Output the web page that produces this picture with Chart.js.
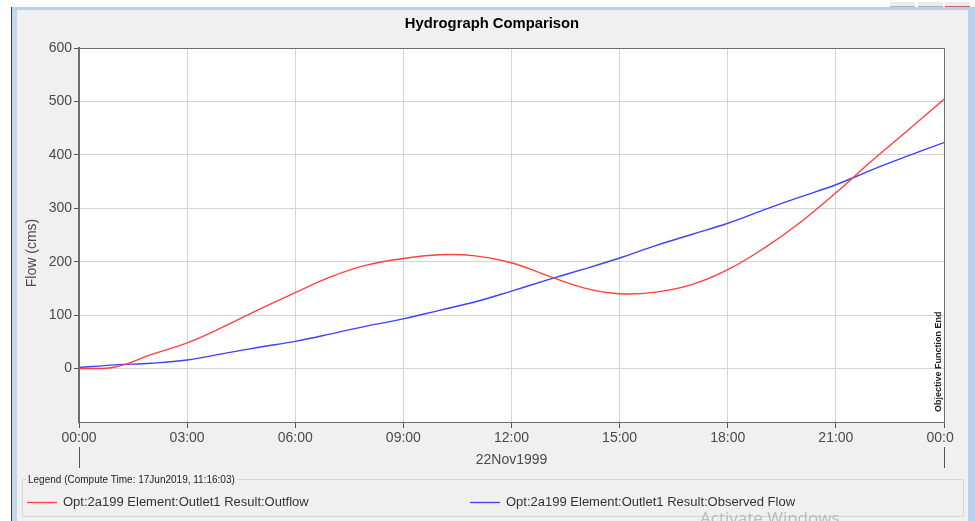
<!DOCTYPE html>
<html>
<head>
<meta charset="utf-8">
<title>Hydrograph Comparison</title>
<script src="https://cdn.jsdelivr.net/npm/chart.js@4"></script>
<style>
  html, body { margin: 0; padding: 0; background: #fff; }
  #wrap { position: relative; width: 975px; height: 521px; overflow: hidden; }
  .panel { position: absolute; left: 17px; top: 10px; width: 951px; height: 511px; background: #f0f0f0; }
  .frame-top { position: absolute; left: 11px; top: 7px; width: 964px; height: 3px; background: #b9d1ea; }
  .frame-left-dark { position: absolute; left: 11px; top: 7px; width: 1px; height: 514px; background: #3c3c3c; }
  .frame-left { position: absolute; left: 12px; top: 10px; width: 5px; height: 511px; background: #c4d8ee; }
  .frame-right { position: absolute; left: 968px; top: 10px; width: 7px; height: 511px; background: #b9d1ea; }
  .btn { position: absolute; top: 2px; height: 4px; width: 25px; background: #ececec; border-bottom: 1px solid #b4b4b4; }
  canvas { position: absolute; left: 0; top: 0; }
</style>
</head>
<body>
<div id="wrap">
  <div class="panel"></div>
  <div class="frame-top"></div>
  <div class="frame-left-dark"></div>
  <div class="frame-left"></div>
  <div class="frame-right"></div>
  <div class="btn" style="left:890px"></div>
  <div class="btn" style="left:918px"></div>
  <div class="btn" style="left:945px; border-bottom-color:#c86060"></div>
  <canvas id="chart" width="975" height="521"></canvas>
</div>
<script>
// Data (hours since 22Nov1999 00:00, flow in cms)
const hours = [0, 1, 2, 3, 4, 5, 6, 7, 8, 9, 10, 11, 12, 13, 14, 15, 16, 17, 18, 19, 20, 21, 22, 23, 24];
const outflow = [0, 3, 26, 48, 78, 111, 142, 172, 194, 206, 213, 211, 198, 174, 151, 140, 143, 157, 185, 225, 273, 329, 389, 446, 504];
const observed = [2, 7, 10, 16, 28, 40, 51, 65, 80, 93, 109, 125, 145, 166, 186, 207, 230, 251, 272, 297, 321, 344, 372, 398, 423];

const seriesLabels = [
  "Opt:2a199 Element:Outlet1 Result:Outflow",
  "Opt:2a199 Element:Outlet1 Result:Observed Flow",
];
const seriesColors = ["#ff4040", "#4040ff"];

const chartTitle = "Hydrograph Comparison";
const yTitle = "Flow (cms)";
const xDate = "22Nov1999";
const legendTitle = "Legend (Compute Time: 17Jun2019, 11:16:03)";
const markerText = "Objective Function End";

const FONT = '"Liberation Sans", Arial, sans-serif';
Chart.defaults.font.family = FONT;

function hhmm(v) {
  const h = v % 24;
  return (h < 10 ? "0" : "") + h + ":00";
}

// Extra drawing: title, axis texts, legend box, marker text
const decor = {
  id: "decor",
  beforeDraw(chart) {
    const { ctx, chartArea: a } = chart;
    ctx.save();
    ctx.fillStyle = "#ffffff";
    ctx.fillRect(a.left, a.top, a.right - a.left, a.bottom - a.top);
    ctx.restore();
  },
  afterDraw(chart) {
    const { ctx, chartArea: a, scales } = chart;
    ctx.save();

    // top and right edge of the plot box
    ctx.strokeStyle = "#6e6e6e";
    ctx.lineWidth = 1;
    ctx.beginPath();
    ctx.moveTo(a.left, a.top + 0.5);
    ctx.lineTo(a.right + 0.5, a.top + 0.5);
    ctx.lineTo(a.right + 0.5, a.bottom);
    ctx.stroke();

    // title
    ctx.fillStyle = "#000";
    ctx.font = "bold 14.8px " + FONT;
    ctx.textAlign = "center";
    ctx.textBaseline = "middle";
    ctx.fillText(chartTitle, 492, 24);

    // y axis title
    ctx.save();
    ctx.translate(32, 253);
    ctx.rotate(-Math.PI / 2);
    ctx.font = "14px " + FONT;
    ctx.fillStyle = "#4a4a4a";
    ctx.fillText(yTitle, 0, 0);
    ctx.restore();

    // date under the time axis
    const x = scales.x;
    ctx.font = "14px " + FONT;
    ctx.fillStyle = "#4a4a4a";
    ctx.fillText(xDate, x.getPixelForValue(12), 460);

    // hide the clipped part of the last time label
    ctx.fillStyle = "#f0f0f0";
    ctx.fillRect(954, 428, 14, 20);

    // day markers below the first and last label
    ctx.strokeStyle = "#555";
    ctx.lineWidth = 1;
    [0, 24].forEach((h) => {
      const px = Math.round(x.getPixelForValue(h)) + 0.5;
      ctx.beginPath();
      ctx.moveTo(px, 447);
      ctx.lineTo(px, 468);
      ctx.stroke();
    });

    // objective function end marker text
    ctx.save();
    ctx.translate(939, 412);
    ctx.rotate(-Math.PI / 2);
    ctx.font = "bold 9px " + FONT;
    ctx.fillStyle = "#222";
    ctx.textAlign = "left";
    ctx.textBaseline = "middle";
    ctx.fillText(markerText, 0, 0);
    ctx.restore();

    // legend box
    ctx.font = "10px " + FONT;
    const tw = ctx.measureText(legendTitle).width;
    ctx.strokeStyle = "#d6d6d6";
    ctx.beginPath();
    ctx.moveTo(26, 479.5);
    ctx.lineTo(22.5, 479.5);
    ctx.lineTo(22.5, 516.5);
    ctx.lineTo(963.5, 516.5);
    ctx.lineTo(963.5, 479.5);
    ctx.lineTo(30 + tw, 479.5);
    ctx.stroke();
    ctx.fillStyle = "#222";
    ctx.textAlign = "left";
    ctx.fillText(legendTitle, 28, 480);

    const items = [
      { x: 27, tx: 63 },
      { x: 470, tx: 506 },
    ];
    chart.data.datasets.forEach((ds, i) => {
      const it = items[i];
      ctx.strokeStyle = ds.borderColor;
      ctx.lineWidth = 1.3;
      ctx.beginPath();
      ctx.moveTo(it.x, 502.5);
      ctx.lineTo(it.x + 30, 502.5);
      ctx.stroke();
      ctx.fillStyle = "#333";
      ctx.font = "13px " + FONT;
      ctx.textBaseline = "middle";
      ctx.fillText(ds.label, it.tx, 502);
    });

    // desktop watermark visible in the screenshot
    ctx.font = "17px 'Open Sans', sans-serif";
    ctx.fillStyle = "rgba(170,170,170,0.75)";
    ctx.textBaseline = "alphabetic";
    ctx.fillText("Activate Windows", 700, 524);

    ctx.restore();
  },
};

new Chart(document.getElementById("chart"), {
  type: "line",
  data: {
    datasets: [
      {
        label: seriesLabels[0],
        data: hours.map((h, i) => ({ x: h, y: outflow[i] })),
        borderColor: seriesColors[0],
        borderWidth: 1.4,
        pointRadius: 0,
        tension: 0.4,
      },
      {
        label: seriesLabels[1],
        data: hours.map((h, i) => ({ x: h, y: observed[i] })),
        borderColor: seriesColors[1],
        borderWidth: 1.4,
        pointRadius: 0,
        tension: 0.4,
      },
    ],
  },
  options: {
    responsive: false,
    devicePixelRatio: 1,
    animation: false,
    layout: { autoPadding: false, padding: { top: 48, right: 31, bottom: 0, left: 0 } },
    plugins: { legend: { display: false }, title: { display: false }, tooltip: { enabled: false } },
    scales: {
      x: {
        type: "linear",
        min: 0,
        max: 24,
        afterFit: (s) => { s.height = 99; },
        ticks: {
          stepSize: 3,
          padding: 2,
          maxRotation: 0,
          color: "#4a4a4a",
          font: { size: 14 },
          callback: (v) => hhmm(v),
        },
        grid: { color: "#d4d4d4", tickColor: "#555", tickLength: 6 },
        border: { color: "#6e6e6e", width: 1 },
      },
      y: {
        min: -100,
        max: 600,
        afterFit: (s) => { s.width = 79; },
        ticks: {
          stepSize: 100,
          padding: 2,
          color: "#4a4a4a",
          font: { size: 14 },
          callback: (v) => (v < 0 ? "" : v),
        },
        grid: {
          color: (c) => (c.tick && c.tick.value < 0 ? "rgba(0,0,0,0)" : "#d4d4d4"),
          tickColor: (c) => (c.tick && c.tick.value < 0 ? "rgba(0,0,0,0)" : "#555"),
          tickLength: 5,
        },
        border: { color: "#6e6e6e", width: 2 },
      },
    },
  },
  plugins: [decor],
});
</script>
</body>
</html>
